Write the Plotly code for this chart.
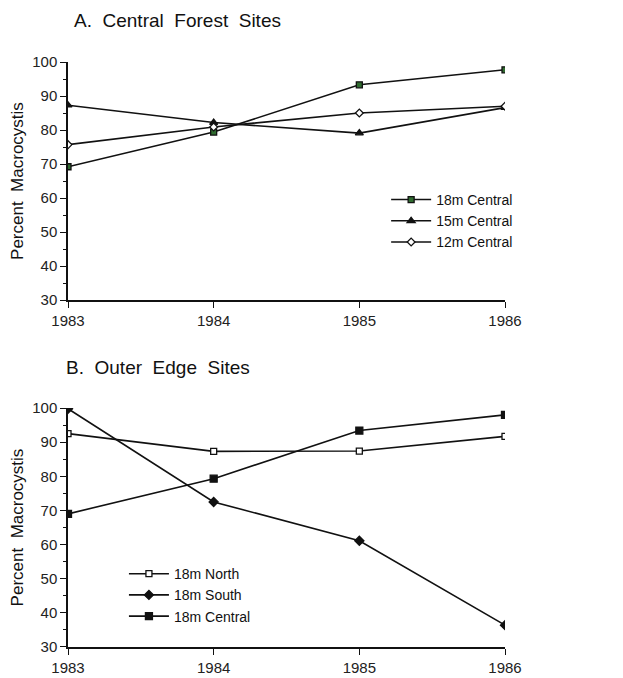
import plotly.graph_objects as go

years = [1983, 1984, 1985, 1986]

# Panel A: Central Forest Sites
a_18m_central = [69.2, 79.4, 93.3, 97.7]
a_15m_central = [87.3, 82.2, 79.1, 86.6]
a_12m_central = [75.7, 80.9, 85.0, 87.0]

# Panel B: Outer Edge Sites
b_18m_north = [92.5, 87.3, 87.4, 91.7]
b_18m_south = [99.8, 72.5, 61.1, 36.4]
b_18m_central = [69.0, 79.3, 93.4, 98.0]

y_ticks = [30, 40, 50, 60, 70, 80, 90, 100]

FONT = "Liberation Sans, Arial, Helvetica, sans-serif"
BLACK = "#111111"

fig = go.Figure()

def add(x, y, name, symbol, xa, ya, legend, fill=BLACK, size=7, showlegend=True):
    fig.add_trace(go.Scatter(
        x=x, y=y, name=name, mode="lines+markers",
        line=dict(color=BLACK, width=1.6),
        marker=dict(symbol=symbol, size=size, color=fill,
                    line=dict(color=BLACK, width=1.3)),
        xaxis=xa, yaxis=ya, legend=legend, showlegend=showlegend,
    ))

# Panel A
add(years, a_18m_central, "18m Central", "square", "x", "y", "legend", fill="#2f6b2f", size=6)
add(years, a_15m_central, "15m Central", "triangle-up", "x", "y", "legend", size=7)
add(years, a_12m_central, "12m Central", "diamond", "x", "y", "legend", fill="white", size=6)

# Panel B
add(years, b_18m_north, "18m North", "square", "x2", "y2", "legend2", fill="white", size=6)
add(years, b_18m_south, "18m South", "diamond", "x2", "y2", "legend2", size=7)
add(years, b_18m_central, "18m Central", "square", "x2", "y2", "legend2", size=7)

xaxis_common = dict(
    range=[1983, 1986], tickvals=years, ticktext=[str(y) for y in years],
    showgrid=False, zeroline=False, showline=True, linecolor=BLACK, linewidth=1.5,
    ticks="outside", ticklen=6, tickcolor=BLACK, tickwidth=1.2, automargin=False,
    tickfont=dict(family=FONT, size=15, color="#222222"),
)
yaxis_common = dict(
    range=[30, 100], tickvals=y_ticks,
    showgrid=False, zeroline=False, showline=True, linecolor=BLACK, linewidth=1.5,
    ticks="outside", ticklen=6, tickcolor=BLACK, tickwidth=1.2, automargin=False,
    tickfont=dict(family=FONT, size=15, color="#222222"),
    minor=dict(dtick=5, tick0=0, ticks="outside", ticklen=3, tickcolor=BLACK, showgrid=False),
    title=dict(text="Percent  Macrocystis", font=dict(family=FONT, size=17, color=BLACK), standoff=4),
)

fig.update_layout(
    width=623, height=678,
    margin=dict(l=60, r=126, t=54, b=39),
    plot_bgcolor="white", paper_bgcolor="white",
    font=dict(family=FONT, color=BLACK),
    xaxis=dict(domain=[0, 1], anchor="y", **xaxis_common),
    yaxis=dict(domain=[0.593, 1], anchor="x", **yaxis_common),
    xaxis2=dict(domain=[0, 1], anchor="y2", **xaxis_common),
    yaxis2=dict(domain=[0, 0.4085], anchor="x2", **yaxis_common),
    legend=dict(x=0.728, y=0.7915, xanchor="left", yanchor="top", xref="paper", yref="paper",
                bgcolor="rgba(0,0,0,0)", font=dict(family=FONT, size=14, color=BLACK),
                itemwidth=40, tracegroupgap=2),
    legend2=dict(x=0.128, y=0.152, xanchor="left", yanchor="top", xref="paper", yref="paper",
                 bgcolor="rgba(0,0,0,0)", font=dict(family=FONT, size=14, color=BLACK),
                 itemwidth=40, tracegroupgap=2),
    showlegend=True,
    annotations=[
        dict(text="A.  Central  Forest  Sites", x=0.009, y=1.0, xref="paper", yref="paper",
             xanchor="left", yanchor="middle", yshift=42, showarrow=False,
             font=dict(family=FONT, size=19, color=BLACK)),
        dict(text="B.  Outer  Edge  Sites", x=-0.009, y=0.4085, xref="paper", yref="paper",
             xanchor="left", yanchor="middle", yshift=41, showarrow=False,
             font=dict(family=FONT, size=19, color=BLACK)),
    ],
)

fig.write_html("out.html")
